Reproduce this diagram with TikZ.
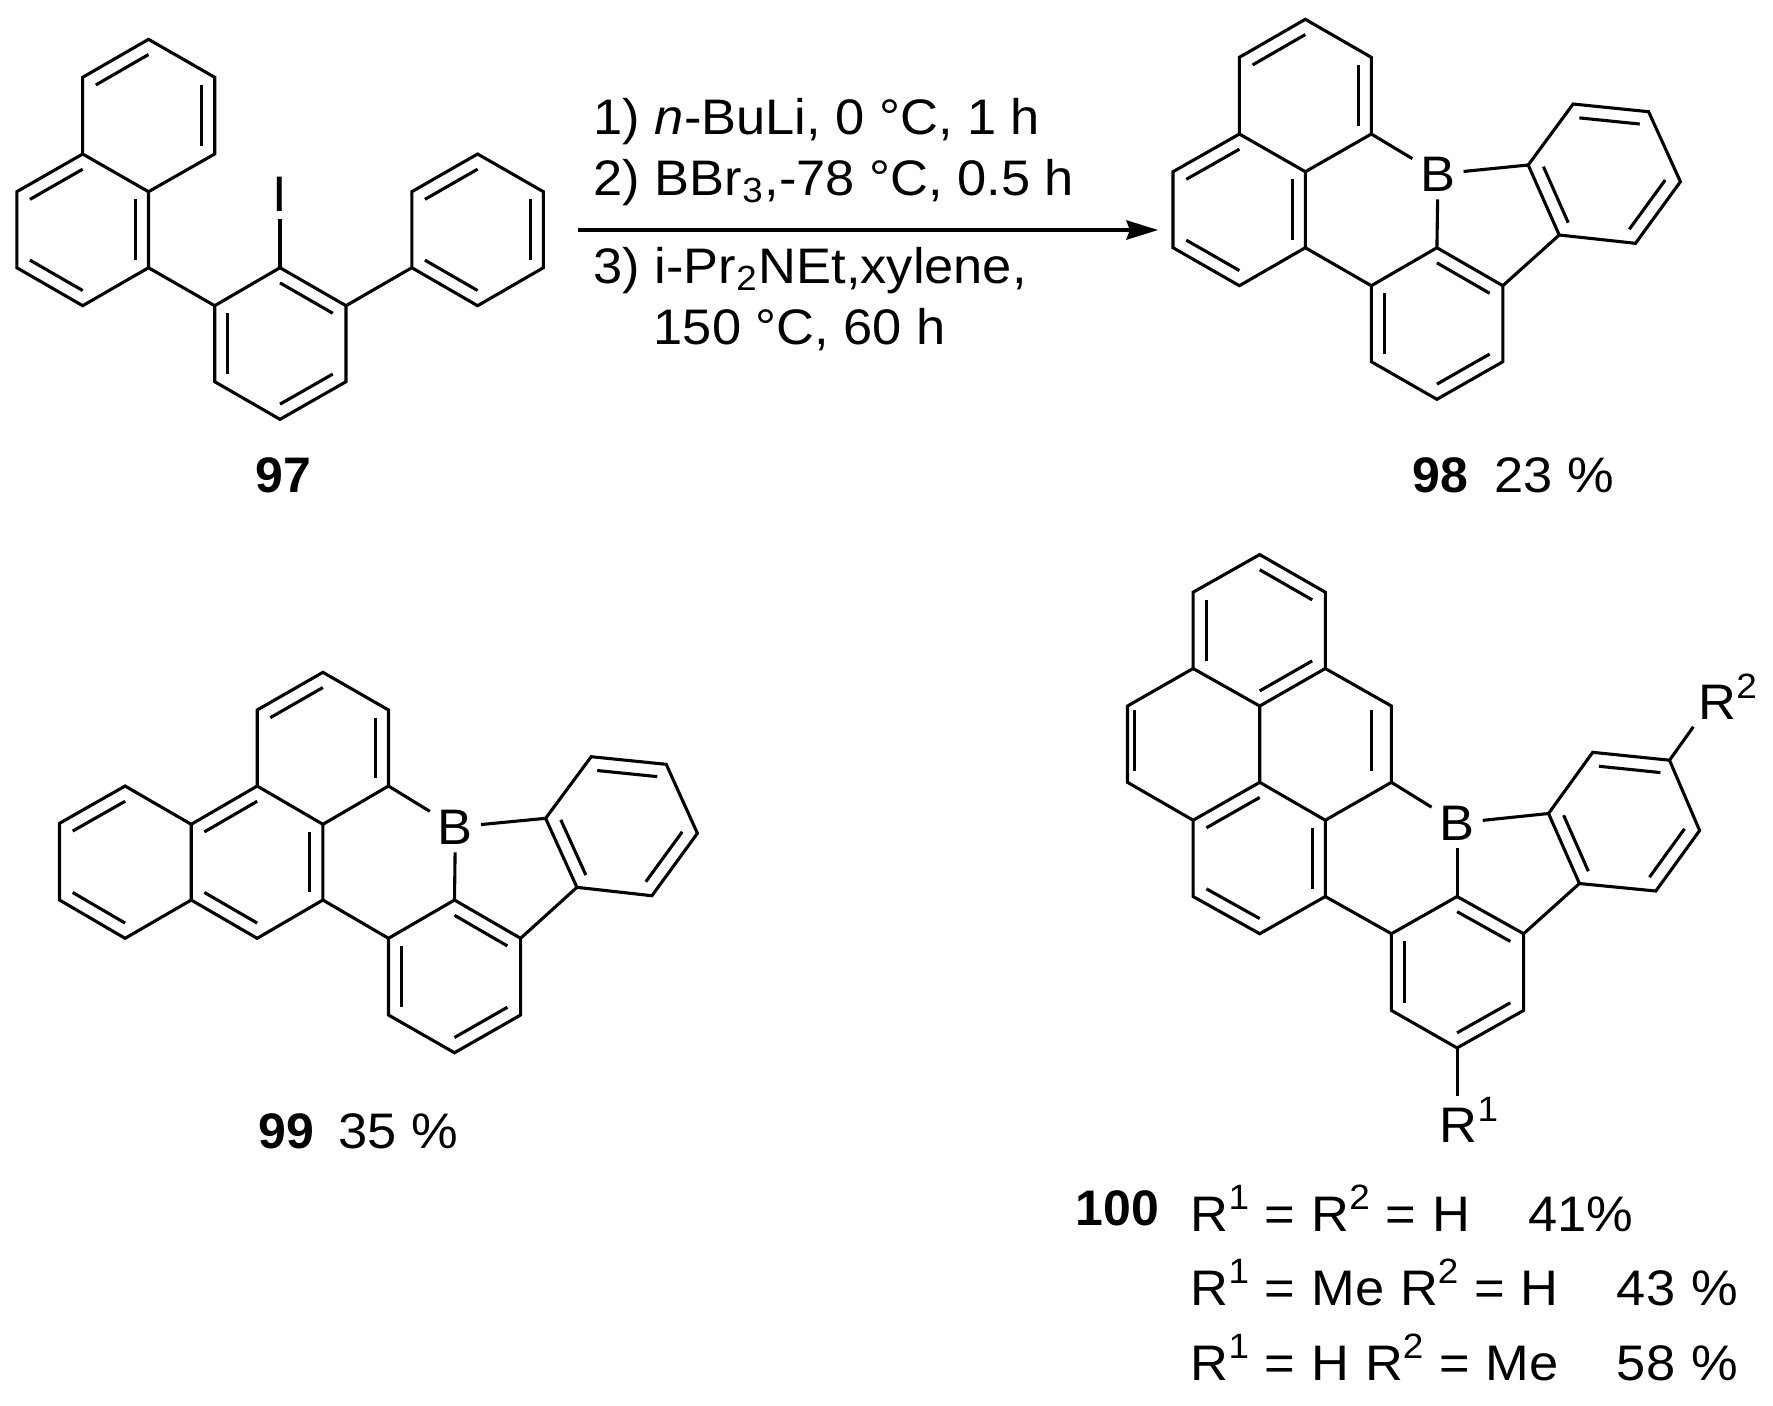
\documentclass[tikz,border=0pt]{standalone}
\usepackage{fontspec}
\setmainfont[FakeStretch=1.05,BoldFeatures={FakeStretch=1.0}]{Liberation Sans}
\usetikzlibrary{calc,arrows.meta}

\tikzset{
  bond/.style={line width=0.88pt},
  txt/.style={font=\fontsize{14.2}{17}\selectfont, inner sep=0pt, anchor=base west},
  rowtxt/.style={txt, execute at begin node={\spaceskip=4.5pt\relax}},
  atom/.style={font=\fontsize{14.2}{17}\selectfont, inner sep=2.1pt},
}
% inner line of a double bond, pulled towards the ring centre
\newcommand{\dbl}[3]{\draw[bond] ($(#1)!0.2!(#3)$) -- ($(#2)!0.2!(#3)$);}
% superscript on an R group
\newcommand{\rsup}[1]{\raisebox{6.1pt}{\fontsize{10}{12}\selectfont #1}}

\begin{document}
\begin{tikzpicture}[x=0.01cm,y=-0.01cm]
      \useasboundingbox (0,0) rectangle (1773,1405);

      % 97
      \foreach \n/\x/\y in {a1/148.5/39.3,a2/214.7/77.3,a3/214.7/154,a4/148.5/191.7,a5/82.7/154,a6/82.7/77.3,
        a7/16.8/191.7,a8/16.8/267.7,a9/82.7/305.7,a10/148.5/267.7,
        a11/214.7/305.7,a12/280/267.7,a13/346/305.7,a14/346/381.7,a15/280/419.3,a16/214.7/381.7,
        a17/411.8/267.7,a18/477.6/305.7,a19/543.4/267.7,a20/543.4/191.7,a21/477.6/154,a22/411.8/191.7}
        \coordinate (\n) at (\x,\y);
      \coordinate (ca1) at ($(a1)!0.5!(a4)$);
      \coordinate (ca2) at ($(a5)!0.5!(a9)$);
      \coordinate (ca3) at ($(a12)!0.5!(a15)$);
      \coordinate (ca4) at ($(a18)!0.5!(a21)$);
      \draw[bond] (a1) -- (a2) -- (a3) -- (a4) -- (a5) -- (a6) -- cycle;
      \draw[bond] (a5) -- (a7) -- (a8) -- (a9) -- (a10) -- (a4);
      \draw[bond] (a11) -- (a12) -- (a13) -- (a14) -- (a15) -- (a16) -- cycle;
      \draw[bond] (a17) -- (a18) -- (a19) -- (a20) -- (a21) -- (a22) -- cycle;
      \draw[bond] (a10) -- (a11);
      \draw[bond] (a13) -- (a17);
      \dbl{a6}{a1}{ca1} \dbl{a2}{a3}{ca1}
      \dbl{a5}{a7}{ca2} \dbl{a8}{a9}{ca2} \dbl{a4}{a10}{ca2}
      \dbl{a12}{a13}{ca3} \dbl{a11}{a16}{ca3} \dbl{a14}{a15}{ca3}
      \dbl{a21}{a22}{ca4} \dbl{a19}{a20}{ca4} \dbl{a17}{a18}{ca4}
      \node[atom] (iodo) at (280,194) {I};
      \draw[bond] (a12) -- (iodo);
      \node[txt] (lab97) at (255,492) {\textbf{97}};

      % 98
      \foreach \n/\x/\y in {b1/1305.3/19.3,b2/1371.3/57.3,b3/1371.3/134,b4/1305.3/171.7,b5/1239.4/134,b6/1239.4/57.3,
        b7/1173/171.7,b8/1173/247.7,b9/1239.4/285.7,b10/1305.3/247.7,
        b11/1371.3/285.7,b12/1436.9/247.7,b13/1502.8/285.7,b14/1502.8/361.7,b15/1436.9/399.3,b16/1371.3/361.7,
        b17/1528.2/165,b18/1573.1/104,b19/1648.6/111.7,b20/1680.4/181.7,b21/1635.5/243.3,b22/1559.2/235}
        \coordinate (\n) at (\x,\y);
      \coordinate (cb1) at ($(b1)!0.5!(b4)$);
      \coordinate (cb2) at ($(b5)!0.5!(b9)$);
      \coordinate (cb3) at ($(b12)!0.5!(b15)$);
      \coordinate (cb4) at ($(b17)!0.5!(b20)$);
      \draw[bond] (b1) -- (b2) -- (b3) -- (b4) -- (b5) -- (b6) -- cycle;
      \draw[bond] (b5) -- (b7) -- (b8) -- (b9) -- (b10) -- (b4);
      \draw[bond] (b11) -- (b12) -- (b13) -- (b14) -- (b15) -- (b16) -- cycle;
      \draw[bond] (b17) -- (b18) -- (b19) -- (b20) -- (b21) -- (b22) -- cycle;
      \draw[bond] (b10) -- (b11);
      \draw[bond] (b13) -- (b22);
      \dbl{b6}{b1}{cb1} \dbl{b2}{b3}{cb1}
      \dbl{b5}{b7}{cb2} \dbl{b8}{b9}{cb2} \dbl{b4}{b10}{cb2}
      \dbl{b12}{b13}{cb3} \dbl{b11}{b16}{cb3} \dbl{b14}{b15}{cb3}
      \dbl{b17}{b22}{cb4} \dbl{b18}{b19}{cb4} \dbl{b20}{b21}{cb4}
      \node[atom] (boron98) at (1438,174) {B};
      \draw[bond] (b3) -- (boron98);
      \draw[bond] (b12) -- (boron98);
      \draw[bond] (b17) -- (boron98);
      \node[txt] (lab98) at (1412,492) {\textbf{98}\hspace{7.4pt}23 \%};

      % 99
      \foreach \n/\x/\y in {c1/322.9/672.3,c2/388.5/710,c3/388.5/786,c4/322.9/824.3,c5/257.2/786,c6/257.2/710,
        c7/322.9/900,c8/257.2/938.3,c9/191.2/900,c10/191.2/824.3,
        c11/125.1/786,c12/59.5/823.3,c13/59.5/900,c14/125.1/938.3,
        c15/388.5/938.3,c16/454.5/900,c17/520.6/938.3,c18/520.6/1015,c19/454.5/1052.7,c20/388.5/1015,
        c21/545.6/818.3,c22/591.2/756.7,c23/666.2/764.3,c24/697.4/833.3,c25/651.9/895.7,c26/576.9/887.3}
        \coordinate (\n) at (\x,\y);
      \coordinate (cc1) at ($(c1)!0.5!(c4)$);
      \coordinate (cc2) at ($(c5)!0.5!(c8)$);
      \coordinate (cc3) at ($(c10)!0.5!(c13)$);
      \coordinate (cc4) at ($(c16)!0.5!(c19)$);
      \coordinate (cc5) at ($(c21)!0.5!(c24)$);
      \draw[bond] (c1) -- (c2) -- (c3) -- (c4) -- (c5) -- (c6) -- cycle;
      \draw[bond] (c4) -- (c7) -- (c8) -- (c9) -- (c10) -- (c5);
      \draw[bond] (c10) -- (c11) -- (c12) -- (c13) -- (c14) -- (c9);
      \draw[bond] (c15) -- (c16) -- (c17) -- (c18) -- (c19) -- (c20) -- cycle;
      \draw[bond] (c21) -- (c22) -- (c23) -- (c24) -- (c25) -- (c26) -- cycle;
      \draw[bond] (c7) -- (c15);
      \draw[bond] (c17) -- (c26);
      \dbl{c6}{c1}{cc1} \dbl{c2}{c3}{cc1}
      \dbl{c5}{c10}{cc2} \dbl{c4}{c7}{cc2} \dbl{c8}{c9}{cc2}
      \dbl{c11}{c12}{cc3} \dbl{c13}{c14}{cc3}
      \dbl{c15}{c20}{cc4} \dbl{c16}{c17}{cc4} \dbl{c18}{c19}{cc4}
      \dbl{c21}{c26}{cc5} \dbl{c22}{c23}{cc5} \dbl{c24}{c25}{cc5}
      \node[atom] (boron99) at (455.4,827) {B};
      \draw[bond] (c3) -- (boron99);
      \draw[bond] (c16) -- (boron99);
      \draw[bond] (c21) -- (boron99);
      \node[txt] (lab99) at (257.7,1148.3) {\textbf{99}\hspace{7pt}35 \%};

      % 100
      \foreach \n/\x/\y in {d1/1259.7/554.6,d2/1325.3/592.2,d3/1325.3/668.5,d4/1259.7/706,d5/1193.1/668.5,d6/1193.1/592.2,
        d7/1391.4/706,d8/1391.4/782.3,d9/1325.3/820.2,d10/1259.7/782.3,
        d11/1193.1/820.2,d12/1127.5/782.3,d13/1127.5/706,
        d14/1325.3/896.5,d15/1259.7/933.7,d16/1193.1/896.5,
        d17/1391.4/933.7,d18/1457.1/896.5,d19/1523.6/933.7,d20/1523.6/1010.4,d21/1457.1/1047.9,d22/1391.4/1010.4,
        d23/1548.5/813.5,d24/1592.7/752.3,d25/1669.5/760.2,d26/1699.6/830.5,d27/1655.8/891,d28/1579.4/883.5}
        \coordinate (\n) at (\x,\y);
      \coordinate (cd1) at ($(d1)!0.5!(d4)$);
      \coordinate (cd2) at ($(d3)!0.5!(d10)$);
      \coordinate (cd3) at ($(d5)!0.5!(d12)$);
      \coordinate (cd4) at ($(d10)!0.5!(d15)$);
      \coordinate (cd5) at ($(d18)!0.5!(d21)$);
      \coordinate (cd6) at ($(d23)!0.5!(d26)$);
      \draw[bond] (d1) -- (d2) -- (d3) -- (d4) -- (d5) -- (d6) -- cycle;
      \draw[bond] (d3) -- (d7) -- (d8) -- (d9) -- (d10) -- (d4);
      \draw[bond] (d5) -- (d13) -- (d12) -- (d11) -- (d10);
      \draw[bond] (d9) -- (d14) -- (d15) -- (d16) -- (d11);
      \draw[bond] (d17) -- (d18) -- (d19) -- (d20) -- (d21) -- (d22) -- cycle;
      \draw[bond] (d23) -- (d24) -- (d25) -- (d26) -- (d27) -- (d28) -- cycle;
      \draw[bond] (d14) -- (d17);
      \draw[bond] (d19) -- (d28);
      \dbl{d1}{d2}{cd1} \dbl{d5}{d6}{cd1} \dbl{d3}{d4}{cd1}
      \dbl{d7}{d8}{cd2}
      \dbl{d12}{d13}{cd3}
      \dbl{d10}{d11}{cd4} \dbl{d9}{d14}{cd4} \dbl{d15}{d16}{cd4}
      \dbl{d17}{d22}{cd5} \dbl{d18}{d19}{cd5} \dbl{d20}{d21}{cd5}
      \dbl{d23}{d28}{cd6} \dbl{d24}{d25}{cd6} \dbl{d26}{d27}{cd6}
      \node[atom] (boron100) at (1457.1,823) {B};
      \draw[bond] (d8) -- (boron100);
      \draw[bond] (d18) -- (boron100);
      \draw[bond] (d23) -- (boron100);
      \node[txt] (rtwo) at (1697.8,719.8) {R\rsup{2}};
      \node[txt] (rone) at (1439,1142.8) {R\rsup{1}};
      \draw[bond, shorten >=2.2pt] (d25) -- (rtwo.south west);
      \draw[bond] (d21) -- (d21 |- rone.north);

      % reaction arrow and conditions
      \coordinate (rxnstart) at (577.7,230);
      \coordinate (rxnend) at (1158,230);
      \draw[bond, -{Stealth[length=9pt,width=5.5pt,inset=1pt]}] (rxnstart) -- (rxnend);
      \node[txt] (cond1) at (593,134.3) {1) \textit{n}-BuLi, 0 °C, 1 h};
      \node[txt] (cond2) at (593,195) {2) BBr\textsubscript{3},-78 °C, 0.5 h};
      \node[txt] (cond3) at (593,283.3) {3) i-Pr\textsubscript{2}NEt,xylene,};
      \node[txt] (cond4) at (653,344.3) {150 °C, 60 h};

      % yields of 100
      \node[txt] (lab100) at (1075,1225) {\textbf{100}};
      \node[rowtxt] (row1) at (1190,1231) {R\rsup{1} = R\rsup{2} = H\hspace{16.6pt}41\%};
      \node[rowtxt] (row2) at (1190,1305) {R\rsup{1} = Me R\rsup{2} = H\hspace{16.6pt}43 \%};
      \node[rowtxt] (row3) at (1190,1380) {R\rsup{1} = H R\rsup{2} = Me\hspace{16.6pt}58 \%};
    \end{tikzpicture}
\end{document}
